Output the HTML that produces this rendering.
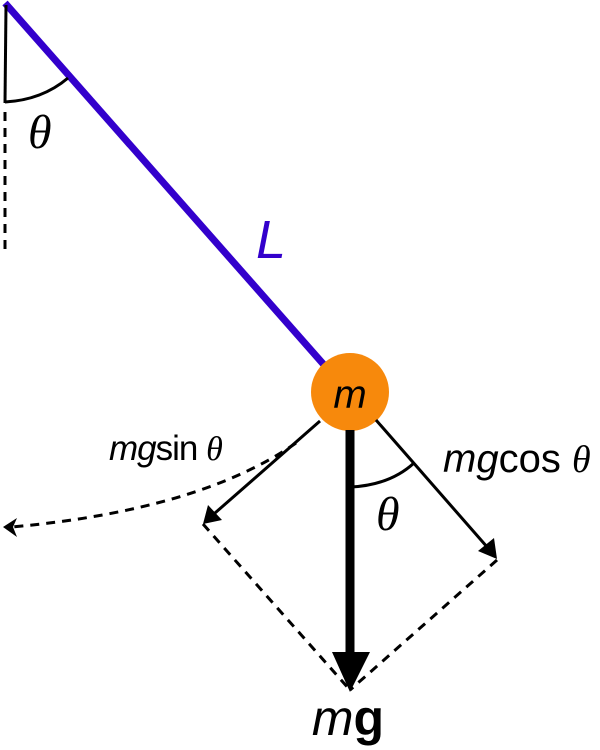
<!DOCTYPE html>
<html><head><style>body{margin:0;background:#fff}svg{display:block}</style></head><body>
<svg width="600" height="750" viewBox="0 0 600 750" xmlns="http://www.w3.org/2000/svg">
<line x1="5" y1="3" x2="325" y2="366" stroke="#3300cc" stroke-width="7"/>
<path d="M6,5 L5,103" stroke="#000" stroke-width="3" fill="none"/>
<path d="M5,102 Q42,100 68,78" stroke="#000" stroke-width="3" fill="none"/>
<line x1="5" y1="112" x2="5" y2="255" stroke="#000" stroke-width="3" stroke-dasharray="9,7"/>
<text x="28" y="148" font-family="Liberation Serif, serif" font-style="italic" font-size="48">θ</text>
<text x="256" y="258" font-family="Liberation Sans, sans-serif" font-style="italic" font-size="54" fill="#3300cc">L</text>
<circle cx="350" cy="392" r="39" fill="#f7890c"/>
<text x="350" y="408" text-anchor="middle" font-family="Liberation Sans, sans-serif" font-style="italic" font-size="40">m</text>
<path d="M296,443 Q200,510 12,527" stroke="#000" stroke-width="3" fill="none" stroke-dasharray="9,7"/>
<path d="M3,527 L17,518 L13,527 L17,537 Z" fill="#000"/>
<line x1="320" y1="421" x2="215" y2="513" stroke="#000" stroke-width="3"/>
<path d="M203,524 L208,505 L222,520 Z" fill="#000"/>
<line x1="376" y1="420" x2="488" y2="548" stroke="#000" stroke-width="3"/>
<path d="M497,559 L478,551 L494,538 Z" fill="#000"/>
<line x1="350" y1="430" x2="350" y2="655" stroke="#000" stroke-width="9"/>
<path d="M332,652 L370,652 L350,692 Z" fill="#000"/>
<line x1="203" y1="524" x2="350" y2="690" stroke="#000" stroke-width="3" stroke-dasharray="9,7"/>
<line x1="497" y1="560" x2="350" y2="690" stroke="#000" stroke-width="3" stroke-dasharray="9,7"/>
<path d="M351,487 Q390,485 414,463" stroke="#000" stroke-width="3" fill="none"/>
<text x="376" y="530" font-family="Liberation Serif, serif" font-style="italic" font-size="48">θ</text>
<text x="109" y="460" font-family="Liberation Sans, sans-serif" font-size="35" letter-spacing="-1"><tspan font-style="italic">mg</tspan>sin <tspan font-family="Liberation Serif, serif" font-style="italic" font-size="34">θ</tspan></text>
<text x="443" y="472" font-family="Liberation Sans, sans-serif" font-size="40"><tspan font-style="italic">mg</tspan>cos <tspan font-family="Liberation Serif, serif" font-style="italic" font-size="38">θ</tspan></text>
<text x="348" y="735" text-anchor="middle" font-family="Liberation Sans, sans-serif" font-size="50"><tspan font-style="italic">m</tspan><tspan font-weight="bold">g</tspan></text>
</svg>
</body></html>
